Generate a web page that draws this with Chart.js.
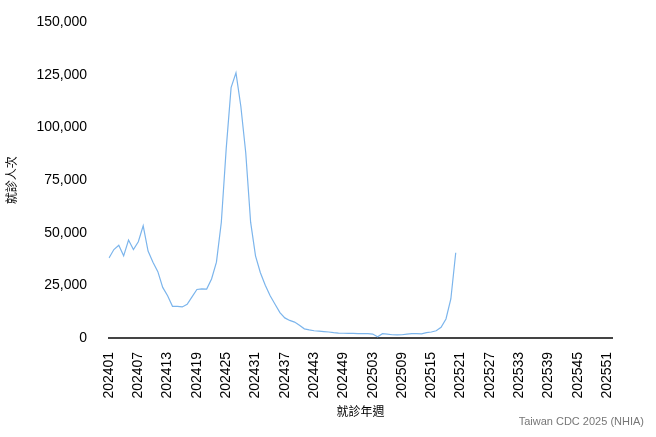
<!DOCTYPE html>
<html>
<head>
<meta charset="utf-8">
<script src="https://cdn.jsdelivr.net/npm/chart.js@4"></script>
<style>
  body { margin: 0; background: #fff; }
  #wrap { position: relative; width: 656px; height: 437px; }
  #note { position: absolute; right: 12px; bottom: 10px; font: 11px "Liberation Sans", Arial, sans-serif; color: #777; }
</style>
</head>
<body>
<div id="wrap">
  <canvas id="chart" width="656" height="437"></canvas>
  <div id="note">Taiwan CDC 2025 (NHIA)</div>
</div>
<script>
// ---------------- data ------------------------
const weeks = [];
for (let y of [2024, 2025]) {
    for (let w = 1; w <= 52; w++) weeks.push(String(y) + String(w).padStart(2, '0'));
}

const visits = [
    38000, 42000, 44000, 39000, 46500, 42000, 45700, 53300, 41300, 36000,
    31500, 24000, 20000, 15000, 15000, 14700, 16000, 19500, 23000, 23300,
    23200, 28000, 36000, 55000, 90000, 119000, 126000, 110000, 88000, 55000,
    39000, 31000, 25000, 20000, 16000, 12000, 9500, 8300, 7500, 6000,
    4300, 3800, 3400, 3200, 3000, 2800, 2500, 2300, 2200, 2100,
    2100, 2000, 2000, 2000, 1800, 500, 2000, 1800, 1500, 1400,
    1500, 1800, 2000, 2000, 1900, 2500, 2800, 3400, 5000, 9000,
    18500, 40500
];

const yTicks = [0, 25000, 50000, 75000, 100000, 125000, 150000];

// ---------------- chart ------------------------
const tickFont = { family: '"Liberation Sans", Arial, sans-serif', size: 14 };

new Chart(document.getElementById('chart'), {
    type: 'line',
    data: {
        labels: weeks,
        datasets: [{
            data: visits,
            borderColor: '#7cb5ec',
            borderWidth: 1.2,
            pointRadius: 0,
            tension: 0,
            fill: false
        }]
    },
    options: {
        responsive: false,
        animation: false,
        layout: { padding: { top: 12, right: 44, bottom: 18 } },
        scales: {
            y: {
                min: 0,
                max: 150000,
                afterBuildTicks: axis => { axis.ticks = yTicks.map(v => ({ value: v })); },
                ticks: { color: '#000', font: tickFont, padding: 14 },
                grid: { display: false },
                border: { display: false },
                title: { display: true, text: '就診人次', color: '#000', font: { family: '"Noto Sans CJK TC", sans-serif', size: 12 } }
            },
            x: {
                ticks: {
                    color: '#000',
                    font: tickFont,
                    autoSkip: false,
                    minRotation: 90,
                    maxRotation: 90,
                    padding: 6,
                    callback: (v, i) => i % 6 === 0 ? weeks[i] : ''
                },
                grid: { display: false },
                border: { color: '#444', width: 2 },
                title: { display: true, text: '就診年週', color: '#000', padding: 0, font: { family: '"Noto Sans CJK TC", sans-serif', size: 12 } }
            }
        },
        plugins: {
            legend: { display: false },
            tooltip: { enabled: false }
        }
    }
});
</script>
</body>
</html>
